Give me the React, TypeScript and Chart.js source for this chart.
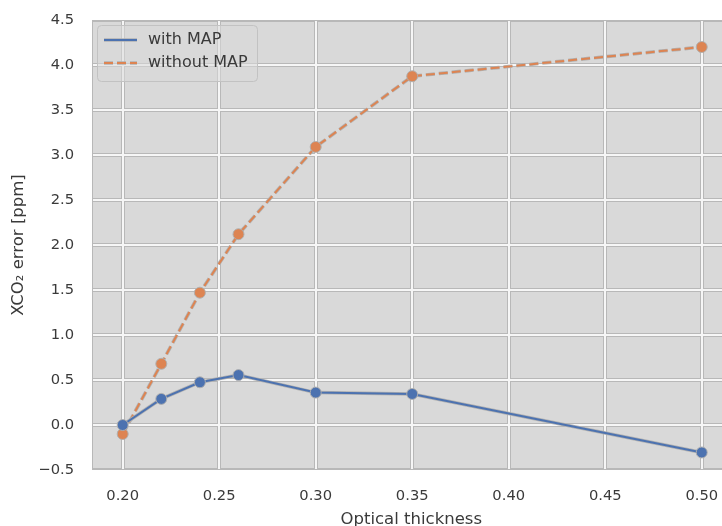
import React, { useEffect, useRef } from 'react';
import { Chart, registerables } from 'chart.js';

Chart.register(...registerables);

// ---- data ----
const opticalThickness = [0.2, 0.22, 0.24, 0.26, 0.3, 0.35, 0.5];
const withMap = [0.0, 0.29, 0.475, 0.555, 0.36, 0.345, -0.305];
const withoutMap = [-0.1, 0.68, 1.47, 2.12, 3.09, 3.875, 4.2];
const xTicks = [0.2, 0.25, 0.3, 0.35, 0.4, 0.45, 0.5];
const seriesLabels = ['with MAP', 'without MAP'];
const seriesColors = ['#4c72b0', '#dd8452'];
const xTitle = 'Optical thickness';
const yTitle = 'XCO\u2082 error [ppm]';

const FONT = "'DejaVu Sans', sans-serif";
const OUTLINE = 'rgba(175,175,175,0.95)';
const DASH = [9, 4];

const toPoints = (vals: number[]) => opticalThickness.map((x, i) => ({ x, y: vals[i] }));

const gridPlugin = {
  id: 'mplGrid',
  beforeDatasetsDraw(chart: any) {
    const { ctx, chartArea, scales } = chart;
    const { left, top, right, bottom } = chartArea;
    const xs = scales.x;
    const ys = scales.y;
    ctx.save();
    ctx.fillStyle = '#d9d9d9';
    ctx.fillRect(left, top, right - left, bottom - top);
    ctx.beginPath();
    ctx.rect(left, top, right - left, bottom - top);
    ctx.clip();
    const lines = (color: string, width: number) => {
      ctx.strokeStyle = color;
      ctx.lineWidth = width;
      ctx.beginPath();
      xs.ticks.forEach((t: any) => {
        const px = Math.round(xs.getPixelForValue(t.value));
        ctx.moveTo(px, top);
        ctx.lineTo(px, bottom);
      });
      ys.ticks.forEach((t: any) => {
        const py = Math.round(ys.getPixelForValue(t.value));
        ctx.moveTo(left, py);
        ctx.lineTo(right, py);
      });
      ctx.stroke();
    };
    lines('#b8b8b8', 4);
    lines('#f6f6f6', 2);
    ctx.strokeStyle = '#b8b8b8';
    ctx.lineWidth = 2;
    ctx.strokeRect(left, top, right - left, bottom - top);
    ctx.restore();
  },
};

const legendPlugin = {
  id: 'mplLegend',
  afterDatasetsDraw(chart: any) {
    const { ctx, chartArea } = chart;
    const { left, top } = chartArea;
    const bx = left + 5.5;
    const by = top + 5.5;
    const bw = 160;
    const bh = 56;
    ctx.save();
    ctx.beginPath();
    (ctx as any).roundRect(bx, by, bw, bh, 4);
    ctx.fillStyle = 'rgba(217,217,217,0.55)';
    ctx.fill();
    ctx.strokeStyle = '#c2c2c2';
    ctx.lineWidth = 1;
    ctx.stroke();
    ctx.font = `16px ${FONT}`;
    ctx.textBaseline = 'middle';
    ctx.textAlign = 'left';
    seriesLabels.forEach((label, i) => {
      const ry = top + 20 + i * 23;
      const x0 = left + 12;
      const x1 = left + 45;
      ctx.setLineDash(i === 1 ? DASH : []);
      ctx.strokeStyle = OUTLINE;
      ctx.lineWidth = 3.5;
      ctx.beginPath();
      ctx.moveTo(x0, ry);
      ctx.lineTo(x1, ry);
      ctx.stroke();
      ctx.strokeStyle = seriesColors[i];
      ctx.lineWidth = 2;
      ctx.beginPath();
      ctx.moveTo(x0, ry);
      ctx.lineTo(x1, ry);
      ctx.stroke();
      ctx.setLineDash([]);
      ctx.fillStyle = '#3a3a3a';
      ctx.fillText(label, left + 56, ry);
    });
    ctx.restore();
  },
};

export default function App() {
  const canvasRef = useRef<HTMLCanvasElement | null>(null);

  useEffect(() => {
    const canvas = canvasRef.current;
    if (!canvas) return;
    const mainLine = (i: number, vals: number[], order: number) => ({
      label: seriesLabels[i],
      data: toPoints(vals),
      borderColor: seriesColors[i],
      backgroundColor: seriesColors[i],
      borderWidth: 2,
      borderDash: i === 1 ? DASH : [],
      pointRadius: 5.5,
      pointBorderColor: OUTLINE,
      pointBorderWidth: 1,
      pointBackgroundColor: seriesColors[i],
      tension: 0,
      order,
    });
    const outline = (i: number, vals: number[], order: number) => ({
      label: seriesLabels[i] + ' outline',
      data: toPoints(vals),
      borderColor: OUTLINE,
      borderWidth: 3.5,
      borderDash: i === 1 ? DASH : [],
      pointRadius: 0,
      tension: 0,
      order,
    });
    const chart = new Chart(canvas, {
      type: 'line',
      data: {
        datasets: [
          mainLine(0, withMap, 0),
          outline(0, withMap, 1),
          mainLine(1, withoutMap, 2),
          outline(1, withoutMap, 3),
        ] as any,
      },
      options: {
        responsive: false,
        animation: false,
        layout: { padding: { top: 20, right: 0, left: 0, bottom: 0 } },
        plugins: { legend: { display: false }, tooltip: { enabled: false } },
        scales: {
          x: {
            type: 'linear',
            min: 0.1841,
            max: 0.5149,
            afterBuildTicks: (s: any) => {
              s.ticks = xTicks.map((v) => ({ value: v }));
            },
            afterFit: (s: any) => {
              s.height = 56;
              s.paddingLeft = 0;
              s.paddingRight = 0;
            },
            ticks: {
              autoSkip: false,
              maxRotation: 0,
              padding: 17,
              color: '#3a3a3a',
              font: { family: FONT, size: 14.7 },
              callback: (v: any) => Number(v).toFixed(2),
            },
            grid: { display: false, drawTicks: false, tickLength: 0 },
            border: { display: false },
            title: {
              display: true,
              text: xTitle,
              color: '#3a3a3a',
              font: { family: FONT, size: 16.5, lineHeight: 0.8 },
              padding: { top: 0, bottom: 0 },
            },
          },
          y: {
            type: 'linear',
            min: -0.5,
            max: 4.5,
            afterFit: (s: any) => {
              s.width = 92;
              s.paddingTop = 0;
              s.paddingBottom = 0;
            },
            ticks: {
              stepSize: 0.5,
              padding: 18,
              color: '#3a3a3a',
              font: { family: FONT, size: 14.7 },
              callback: (v: any) => {
                const n = Number(v);
                return (n < 0 ? '\u2212' : '') + Math.abs(n).toFixed(1);
              },
            },
            grid: { display: false, drawTicks: false, tickLength: 0 },
            border: { display: false },
            title: {
              display: true,
              text: yTitle,
              color: '#3a3a3a',
              font: { family: FONT, size: 16.5, lineHeight: 1.2 },
              padding: { top: 8.5, bottom: 0 },
            },
          },
        },
      },
      plugins: [gridPlugin, legendPlugin],
    });
    return () => chart.destroy();
  }, []);

  return (
    <div
      style={{
        position: 'absolute',
        left: 0,
        top: 0,
        width: 722,
        height: 526,
        overflow: 'hidden',
      }}
    >
      <canvas ref={canvasRef} width={737} height={526} style={{ display: 'block' }} />
    </div>
  );
}
